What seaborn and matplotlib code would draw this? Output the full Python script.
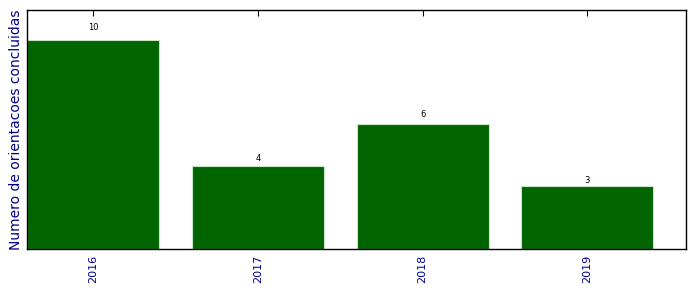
import matplotlib
matplotlib.use("Agg")
import matplotlib.pyplot as plt
import seaborn as sns
import pandas as pd

years = ["2016", "2017", "2018", "2019"]
counts = [10, 4, 6, 3]

sns.set_style("white")
plt.rcParams['font.family'] = ['DejaVu Sans']

fig = plt.figure(figsize=(6.96, 2.92), dpi=100)
ax = fig.add_axes([0.039, 0.147, 0.947, 0.819])
df = pd.DataFrame({"ano": years, "n": counts})
sns.barplot(data=df, x="ano", y="n", color="#006400", saturation=1, width=0.8,
            edgecolor="#c8e6c8", linewidth=0.8, ax=ax)
ax.set_xlim(-0.4, 3.6)
ax.set_ylim(0, 11.45)
ax.set_yticks([])
for i, v in enumerate(counts):
    ax.text(i, v * 1.05, str(v), ha="center", va="baseline", fontsize=6, color="black")
ax.set_xlabel("")
ax.set_ylabel("Numero de orientacoes concluidas", color="#00008b", fontsize=10, labelpad=3)
ax.tick_params(axis="x", direction="in", top=True, bottom=True, length=4, width=0.8,
               labelsize=8, labelcolor="#00008b", labelrotation=90, pad=4, color="black")
for s in ax.spines.values():
    s.set_visible(True)
    s.set_color("black")
    s.set_linewidth(1.0)
fig.savefig("out.png", dpi=100)
